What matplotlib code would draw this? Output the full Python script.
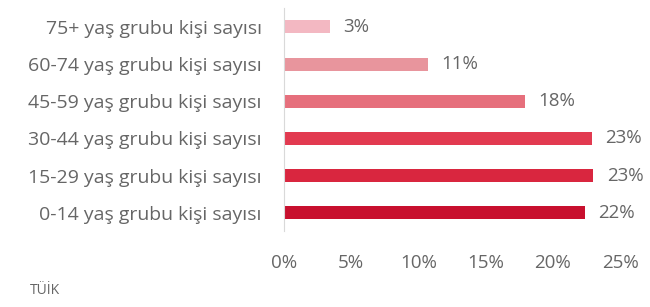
import matplotlib
matplotlib.use('Agg')
from matplotlib import pyplot as plt

plt.rcParams['font.family'] = ['Open Sans', 'DejaVu Sans']

groups = ['0-14 yaş grubu kişi sayısı', '15-29 yaş grubu kişi sayısı',
          '30-44 yaş grubu kişi sayısı', '45-59 yaş grubu kişi sayısı',
          '60-74 yaş grubu kişi sayısı', '75+ yaş grubu kişi sayısı']
shares = [22.4, 23.0, 22.9, 17.9, 10.7, 3.4]
share_labels = ['22%', '23%', '23%', '18%', '11%', '3%']
colors = ['#c8102e', '#d9263f', '#e23a50', '#e66f7c', '#e8959d', '#f3b8c2']
xticks = [0, 5, 10, 15, 20, 25]
source = 'TÜİK'

grey = '#666666'
fig = plt.figure(figsize=(6.5, 3.07), dpi=100)
ax = fig.add_axes([0.437, 0.246, 0.517, 0.727])
ax.barh(range(len(groups)), shares, height=0.35, color=colors)
for i, v in enumerate(shares):
    ax.text(v + 1.0, i, share_labels[i], va='center', ha='left', fontsize=13.5, color=grey)

ax.set_xlim(0, 25)
ax.set_ylim(-0.5, len(groups) - 0.5)
ax.set_yticks(range(len(groups)))
ax.set_yticklabels(groups, fontsize=14, color=grey)
ax.set_xticks(xticks)
ax.set_xticklabels(['%d%%' % t for t in xticks], fontsize=13.5, color=grey)
ax.tick_params(axis='both', length=0)
ax.tick_params(axis='y', pad=16)
ax.tick_params(axis='x', pad=16)
for s in ['top', 'right', 'bottom']:
    ax.spines[s].set_visible(False)
ax.spines['left'].set_color('#d9d9d9')

fig.text(30 / 650, 1 - 290 / 307, source, fontsize=10, color=grey, va='center', ha='left')
fig.savefig('out.png', dpi=100, facecolor='white')
